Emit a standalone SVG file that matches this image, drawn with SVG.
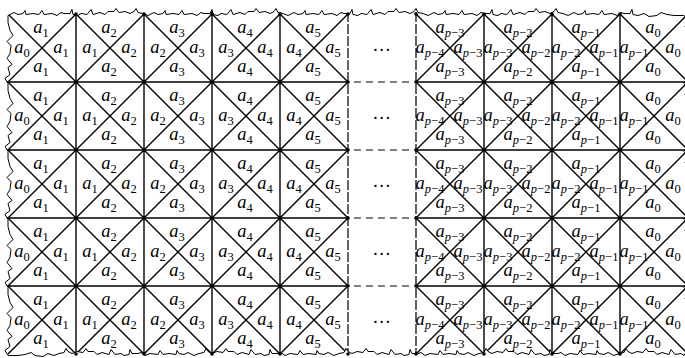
<svg xmlns="http://www.w3.org/2000/svg" xmlns:xlink="http://www.w3.org/1999/xlink" width="685" height="358" viewBox="0 0 685 358">
<style>
.t text{font-family:"Liberation Serif","DejaVu Serif",serif;font-size:18.5px;font-style:italic;text-anchor:middle;fill:#000}
.s{font-size:12.5px;font-style:normal}
.i{font-style:italic}
.ln{stroke:#000;stroke-width:1.4;fill:none}
.dv{stroke:#3a3a3a;stroke-width:1.6;stroke-dasharray:10 2;fill:none}
.dh{stroke:#555;stroke-width:1.4;stroke-dasharray:7 5;fill:none}
.dot{fill:#000}
.edge{fill:none;stroke:#000;stroke-width:1;stroke-linejoin:miter}
.el{font-family:"Liberation Serif","DejaVu Serif",serif;font-size:18px;text-anchor:middle;fill:#000}
</style>
<defs>
<path id="torn" d="M8,15.5
l6,-3 4,2 5,-1 2,-3 1,4 7,-1 6,1 3,-4 2,4 8,-1 5,2 4,-3 3,1 6,0 2,-4 1,5 5,1
l3,-2 6,1 4,-5 2,5 7,-2 5,2 3,-3 6,0 2,-3 3,4 6,-1 5,2 4,-2 2,-3 2,4 5,1 5,2
l6,-3 4,2 5,-1 2,-3 1,4 7,-1 6,1 3,-4 2,4 8,-1 5,2 4,-3 3,1 6,0 2,-4 1,5 5,1
l3,-2 6,1 4,-5 2,5 7,-2 5,2 3,-3 6,0 2,-3 3,4 6,-1 5,2 4,-2 2,-3 2,4 5,1 5,2
l6,-3 4,2 5,-1 2,-3 1,4 7,-1 6,1 3,-4 2,4 8,-1 5,2 4,-3 3,1 6,0 2,-4 1,5 5,1
l3,-2 6,1 4,-5 2,5 7,-2 5,2 3,-3 6,0 2,-3 3,4 6,-1 5,2 4,-2 2,-3 2,4 5,1 5,2
l6,-3 4,2 5,-1 2,-3 1,4 7,-1 6,1 3,-4 2,4 8,-1 5,2 4,-3 3,1 6,0 2,-4 1,5 5,1
l3,-2 6,1 4,-5 2,5 7,-2 5,2 3,-3 6,0 2,-3 3,4 6,-1 5,2 4,-2 2,-3 2,4 5,1 5,2
l6,-3 4,2 5,-1 2,-3 1,4 7,-1 6,1 3,-4 2,4 8,-1 5,2 4,-3 3,1 6,0 2,-4 1,5 5,1
l6,-2 5,3 8,-1 4,-3 6,2 7,1 10,0
l4,6 -3,5 5,8 -2,4 3,9 -5,3 4,7 -1,6 2,8 -3,5 -4,7
l4,6 -3,5 5,8 -2,4 3,9 -5,3 4,7 -1,6 2,8 -3,5 -4,7
l4,6 -3,5 5,8 -2,4 3,9 -5,3 4,7 -1,6 2,8 -3,5 -4,7
l4,6 -3,5 5,8 -2,4 3,9 -5,3 4,7 -1,6 2,8 -3,5 -4,7
l4,6 -3,5 5,8 -2,4 3,9 -5,3 4,7 -1,6 2,8 -3,5 -4,7
l-3,-2 -6,1 -4,-5 -2,5 -7,-2 -5,2 -3,-3 -6,0 -2,-3 -3,4 -6,-1 -5,2 -4,-2 -2,-3 -2,4 -5,1 -5,2
l-6,-3 -4,2 -5,-1 -2,-3 -1,4 -7,-1 -6,1 -3,-4 -2,4 -8,-1 -5,2 -4,-3 -3,1 -6,0 -2,-4 -1,5 -5,1
l-3,-2 -6,1 -4,-5 -2,5 -7,-2 -5,2 -3,-3 -6,0 -2,-3 -3,4 -6,-1 -5,2 -4,-2 -2,-3 -2,4 -5,1 -5,2
l-6,-3 -4,2 -5,-1 -2,-3 -1,4 -7,-1 -6,1 -3,-4 -2,4 -8,-1 -5,2 -4,-3 -3,1 -6,0 -2,-4 -1,5 -5,1
l-3,-2 -6,1 -4,-5 -2,5 -7,-2 -5,2 -3,-3 -6,0 -2,-3 -3,4 -6,-1 -5,2 -4,-2 -2,-3 -2,4 -5,1 -5,2
l-6,-3 -4,2 -5,-1 -2,-3 -1,4 -7,-1 -6,1 -3,-4 -2,4 -8,-1 -5,2 -4,-3 -3,1 -6,0 -2,-4 -1,5 -5,1
l-3,-2 -6,1 -4,-5 -2,5 -7,-2 -5,2 -3,-3 -6,0 -2,-3 -3,4 -6,-1 -5,2 -4,-2 -2,-3 -2,4 -5,1 -5,2
l-6,-3 -4,2 -5,-1 -2,-3 -1,4 -7,-1 -6,1 -3,-4 -2,4 -8,-1 -5,2 -4,-3 -3,1 -6,0 -2,-4 -1,5 -5,1
l-3,-2 -6,1 -4,-5 -2,5 -7,-2 -5,2 -3,-3 -6,0 -2,-3 -3,4 -6,-1 -5,2 -4,-2 -2,-3 -2,4 -5,1 -5,2
l-6,-2 -5,3 -8,-1 -4,-3 -6,2 -7,1 -10,0
l-3,-5 5,-4 -2,-7 4,-3 -5,-6 3,-5 1,-8 -4,-4 6,-6 -3,-5 -2,-8 0,-7
l-3,-5 5,-4 -2,-7 4,-3 -5,-6 3,-5 1,-8 -4,-4 6,-6 -3,-5 -2,-8 0,-7
l-3,-5 5,-4 -2,-7 4,-3 -5,-6 3,-5 1,-8 -4,-4 6,-6 -3,-5 -2,-8 0,-7
l-3,-5 5,-4 -2,-7 4,-3 -5,-6 3,-5 1,-8 -4,-4 6,-6 -3,-5 -2,-8 0,-7
l-3,-5 5,-4 -2,-7 4,-3 -5,-6 3,-5 1,-8 -4,-4 6,-6 -3,-5 -2,-8 0,-7 Z"/>
<clipPath id="clip"><use xlink:href="#torn"/></clipPath>
</defs>
<rect width="685" height="358" fill="#fff"/>
<g clip-path="url(#clip)">
<g id="connectors">
<path class="ln" d="M76,0V358M144,0V358M212,0V358M280,0V358M484,0V358M552,0V358M620,0V358M688,0V358"/>
<path class="dv" d="M348,0V358M416,0V358"/>
<path class="ln" d="M0,82H348M0,150H348M0,218H348M0,286H348M416,82H700M416,150H700M416,218H700M416,286H700"/>
<path class="dh" d="M354,82H412M354,150H412M354,218H412M354,286H412"/>
<path class="ln" d="M8,14L348,354M76,14L348,286M144,14L348,218M212,14L348,150M280,14L348,82M8,82L280,354M8,150L212,354M8,218L144,354M8,286L76,354
M76,14L8,82M144,14L8,150M212,14L8,218M280,14L8,286M348,14L8,354M348,82L76,354M348,150L144,354M348,218L212,354M348,286L280,354"/>
<path class="ln" d="M416,14L756,354M484,14L756,286M552,14L756,218M620,14L756,150M688,14L756,82M416,82L688,354M416,150L620,354M416,218L552,354M416,286L484,354
M484,14L416,82M552,14L416,150M620,14L416,218M688,14L416,286M756,14L416,354M756,82L484,354M756,150L552,354M756,218L620,354M756,286L688,354"/>
</g>
<g class="t">
<g id="r1c1"><text x="41" y="32.5">a<tspan class="s" dy="4">1</tspan></text><text x="22" y="53">a<tspan class="s" dy="4">0</tspan></text><text x="61" y="53">a<tspan class="s" dy="4">1</tspan></text><text x="41" y="71.5">a<tspan class="s" dy="4">1</tspan></text></g>
<g id="r1c2"><text x="109" y="32.5">a<tspan class="s" dy="4">2</tspan></text><text x="90" y="53">a<tspan class="s" dy="4">1</tspan></text><text x="129" y="53">a<tspan class="s" dy="4">2</tspan></text><text x="109" y="71.5">a<tspan class="s" dy="4">2</tspan></text></g>
<g id="r1c3"><text x="177" y="32.5">a<tspan class="s" dy="4">3</tspan></text><text x="158" y="53">a<tspan class="s" dy="4">2</tspan></text><text x="197" y="53">a<tspan class="s" dy="4">3</tspan></text><text x="177" y="71.5">a<tspan class="s" dy="4">3</tspan></text></g>
<g id="r1c4"><text x="245" y="32.5">a<tspan class="s" dy="4">4</tspan></text><text x="226" y="53">a<tspan class="s" dy="4">3</tspan></text><text x="265" y="53">a<tspan class="s" dy="4">4</tspan></text><text x="245" y="71.5">a<tspan class="s" dy="4">4</tspan></text></g>
<g id="r1c5"><text x="313" y="32.5">a<tspan class="s" dy="4">5</tspan></text><text x="294" y="53">a<tspan class="s" dy="4">4</tspan></text><text x="333" y="53">a<tspan class="s" dy="4">5</tspan></text><text x="313" y="71.5">a<tspan class="s" dy="4">5</tspan></text></g>
<g id="r1gap"><text class="el" x="382" y="51">…</text></g>
<g id="r1c6"><text x="450" y="32.5">a<tspan class="s" dy="4"><tspan class="i">p</tspan>−3</tspan></text><text x="430" y="53">a<tspan class="s" dy="4"><tspan class="i">p</tspan>−4</tspan></text><text x="468" y="53">a<tspan class="s" dy="4"><tspan class="i">p</tspan>−3</tspan></text><text x="450" y="71.5">a<tspan class="s" dy="4"><tspan class="i">p</tspan>−3</tspan></text></g>
<g id="r1c7"><text x="518" y="32.5">a<tspan class="s" dy="4"><tspan class="i">p</tspan>−2</tspan></text><text x="498" y="53">a<tspan class="s" dy="4"><tspan class="i">p</tspan>−3</tspan></text><text x="536" y="53">a<tspan class="s" dy="4"><tspan class="i">p</tspan>−2</tspan></text><text x="518" y="71.5">a<tspan class="s" dy="4"><tspan class="i">p</tspan>−2</tspan></text></g>
<g id="r1c8"><text x="586" y="32.5">a<tspan class="s" dy="4"><tspan class="i">p</tspan>−1</tspan></text><text x="566" y="53">a<tspan class="s" dy="4"><tspan class="i">p</tspan>−2</tspan></text><text x="604" y="53">a<tspan class="s" dy="4"><tspan class="i">p</tspan>−1</tspan></text><text x="586" y="71.5">a<tspan class="s" dy="4"><tspan class="i">p</tspan>−1</tspan></text></g>
<g id="r1c9"><text x="653" y="32.5">a<tspan class="s" dy="4">0</tspan></text><text x="634" y="53">a<tspan class="s" dy="4"><tspan class="i">p</tspan>−1</tspan></text><text x="673" y="53">a<tspan class="s" dy="4">0</tspan></text><text x="653" y="71.5">a<tspan class="s" dy="4">0</tspan></text></g>

<g id="r2c1"><text x="41" y="100.5">a<tspan class="s" dy="4">1</tspan></text><text x="22" y="121">a<tspan class="s" dy="4">0</tspan></text><text x="61" y="121">a<tspan class="s" dy="4">1</tspan></text><text x="41" y="139.5">a<tspan class="s" dy="4">1</tspan></text></g>
<g id="r2c2"><text x="109" y="100.5">a<tspan class="s" dy="4">2</tspan></text><text x="90" y="121">a<tspan class="s" dy="4">1</tspan></text><text x="129" y="121">a<tspan class="s" dy="4">2</tspan></text><text x="109" y="139.5">a<tspan class="s" dy="4">2</tspan></text></g>
<g id="r2c3"><text x="177" y="100.5">a<tspan class="s" dy="4">3</tspan></text><text x="158" y="121">a<tspan class="s" dy="4">2</tspan></text><text x="197" y="121">a<tspan class="s" dy="4">3</tspan></text><text x="177" y="139.5">a<tspan class="s" dy="4">3</tspan></text></g>
<g id="r2c4"><text x="245" y="100.5">a<tspan class="s" dy="4">4</tspan></text><text x="226" y="121">a<tspan class="s" dy="4">3</tspan></text><text x="265" y="121">a<tspan class="s" dy="4">4</tspan></text><text x="245" y="139.5">a<tspan class="s" dy="4">4</tspan></text></g>
<g id="r2c5"><text x="313" y="100.5">a<tspan class="s" dy="4">5</tspan></text><text x="294" y="121">a<tspan class="s" dy="4">4</tspan></text><text x="333" y="121">a<tspan class="s" dy="4">5</tspan></text><text x="313" y="139.5">a<tspan class="s" dy="4">5</tspan></text></g>
<g id="r2gap"><text class="el" x="382" y="119">…</text></g>
<g id="r2c6"><text x="450" y="100.5">a<tspan class="s" dy="4"><tspan class="i">p</tspan>−3</tspan></text><text x="430" y="121">a<tspan class="s" dy="4"><tspan class="i">p</tspan>−4</tspan></text><text x="468" y="121">a<tspan class="s" dy="4"><tspan class="i">p</tspan>−3</tspan></text><text x="450" y="139.5">a<tspan class="s" dy="4"><tspan class="i">p</tspan>−3</tspan></text></g>
<g id="r2c7"><text x="518" y="100.5">a<tspan class="s" dy="4"><tspan class="i">p</tspan>−2</tspan></text><text x="498" y="121">a<tspan class="s" dy="4"><tspan class="i">p</tspan>−3</tspan></text><text x="536" y="121">a<tspan class="s" dy="4"><tspan class="i">p</tspan>−2</tspan></text><text x="518" y="139.5">a<tspan class="s" dy="4"><tspan class="i">p</tspan>−2</tspan></text></g>
<g id="r2c8"><text x="586" y="100.5">a<tspan class="s" dy="4"><tspan class="i">p</tspan>−1</tspan></text><text x="566" y="121">a<tspan class="s" dy="4"><tspan class="i">p</tspan>−2</tspan></text><text x="604" y="121">a<tspan class="s" dy="4"><tspan class="i">p</tspan>−1</tspan></text><text x="586" y="139.5">a<tspan class="s" dy="4"><tspan class="i">p</tspan>−1</tspan></text></g>
<g id="r2c9"><text x="653" y="100.5">a<tspan class="s" dy="4">0</tspan></text><text x="634" y="121">a<tspan class="s" dy="4"><tspan class="i">p</tspan>−1</tspan></text><text x="673" y="121">a<tspan class="s" dy="4">0</tspan></text><text x="653" y="139.5">a<tspan class="s" dy="4">0</tspan></text></g>

<g id="r3c1"><text x="41" y="168.5">a<tspan class="s" dy="4">1</tspan></text><text x="22" y="189">a<tspan class="s" dy="4">0</tspan></text><text x="61" y="189">a<tspan class="s" dy="4">1</tspan></text><text x="41" y="207.5">a<tspan class="s" dy="4">1</tspan></text></g>
<g id="r3c2"><text x="109" y="168.5">a<tspan class="s" dy="4">2</tspan></text><text x="90" y="189">a<tspan class="s" dy="4">1</tspan></text><text x="129" y="189">a<tspan class="s" dy="4">2</tspan></text><text x="109" y="207.5">a<tspan class="s" dy="4">2</tspan></text></g>
<g id="r3c3"><text x="177" y="168.5">a<tspan class="s" dy="4">3</tspan></text><text x="158" y="189">a<tspan class="s" dy="4">2</tspan></text><text x="197" y="189">a<tspan class="s" dy="4">3</tspan></text><text x="177" y="207.5">a<tspan class="s" dy="4">3</tspan></text></g>
<g id="r3c4"><text x="245" y="168.5">a<tspan class="s" dy="4">4</tspan></text><text x="226" y="189">a<tspan class="s" dy="4">3</tspan></text><text x="265" y="189">a<tspan class="s" dy="4">4</tspan></text><text x="245" y="207.5">a<tspan class="s" dy="4">4</tspan></text></g>
<g id="r3c5"><text x="313" y="168.5">a<tspan class="s" dy="4">5</tspan></text><text x="294" y="189">a<tspan class="s" dy="4">4</tspan></text><text x="333" y="189">a<tspan class="s" dy="4">5</tspan></text><text x="313" y="207.5">a<tspan class="s" dy="4">5</tspan></text></g>
<g id="r3gap"><text class="el" x="382" y="187">…</text></g>
<g id="r3c6"><text x="450" y="168.5">a<tspan class="s" dy="4"><tspan class="i">p</tspan>−3</tspan></text><text x="430" y="189">a<tspan class="s" dy="4"><tspan class="i">p</tspan>−4</tspan></text><text x="468" y="189">a<tspan class="s" dy="4"><tspan class="i">p</tspan>−3</tspan></text><text x="450" y="207.5">a<tspan class="s" dy="4"><tspan class="i">p</tspan>−3</tspan></text></g>
<g id="r3c7"><text x="518" y="168.5">a<tspan class="s" dy="4"><tspan class="i">p</tspan>−2</tspan></text><text x="498" y="189">a<tspan class="s" dy="4"><tspan class="i">p</tspan>−3</tspan></text><text x="536" y="189">a<tspan class="s" dy="4"><tspan class="i">p</tspan>−2</tspan></text><text x="518" y="207.5">a<tspan class="s" dy="4"><tspan class="i">p</tspan>−2</tspan></text></g>
<g id="r3c8"><text x="586" y="168.5">a<tspan class="s" dy="4"><tspan class="i">p</tspan>−1</tspan></text><text x="566" y="189">a<tspan class="s" dy="4"><tspan class="i">p</tspan>−2</tspan></text><text x="604" y="189">a<tspan class="s" dy="4"><tspan class="i">p</tspan>−1</tspan></text><text x="586" y="207.5">a<tspan class="s" dy="4"><tspan class="i">p</tspan>−1</tspan></text></g>
<g id="r3c9"><text x="653" y="168.5">a<tspan class="s" dy="4">0</tspan></text><text x="634" y="189">a<tspan class="s" dy="4"><tspan class="i">p</tspan>−1</tspan></text><text x="673" y="189">a<tspan class="s" dy="4">0</tspan></text><text x="653" y="207.5">a<tspan class="s" dy="4">0</tspan></text></g>

<g id="r4c1"><text x="41" y="236.5">a<tspan class="s" dy="4">1</tspan></text><text x="22" y="257">a<tspan class="s" dy="4">0</tspan></text><text x="61" y="257">a<tspan class="s" dy="4">1</tspan></text><text x="41" y="275.5">a<tspan class="s" dy="4">1</tspan></text></g>
<g id="r4c2"><text x="109" y="236.5">a<tspan class="s" dy="4">2</tspan></text><text x="90" y="257">a<tspan class="s" dy="4">1</tspan></text><text x="129" y="257">a<tspan class="s" dy="4">2</tspan></text><text x="109" y="275.5">a<tspan class="s" dy="4">2</tspan></text></g>
<g id="r4c3"><text x="177" y="236.5">a<tspan class="s" dy="4">3</tspan></text><text x="158" y="257">a<tspan class="s" dy="4">2</tspan></text><text x="197" y="257">a<tspan class="s" dy="4">3</tspan></text><text x="177" y="275.5">a<tspan class="s" dy="4">3</tspan></text></g>
<g id="r4c4"><text x="245" y="236.5">a<tspan class="s" dy="4">4</tspan></text><text x="226" y="257">a<tspan class="s" dy="4">3</tspan></text><text x="265" y="257">a<tspan class="s" dy="4">4</tspan></text><text x="245" y="275.5">a<tspan class="s" dy="4">4</tspan></text></g>
<g id="r4c5"><text x="313" y="236.5">a<tspan class="s" dy="4">5</tspan></text><text x="294" y="257">a<tspan class="s" dy="4">4</tspan></text><text x="333" y="257">a<tspan class="s" dy="4">5</tspan></text><text x="313" y="275.5">a<tspan class="s" dy="4">5</tspan></text></g>
<g id="r4gap"><text class="el" x="382" y="255">…</text></g>
<g id="r4c6"><text x="450" y="236.5">a<tspan class="s" dy="4"><tspan class="i">p</tspan>−3</tspan></text><text x="430" y="257">a<tspan class="s" dy="4"><tspan class="i">p</tspan>−4</tspan></text><text x="468" y="257">a<tspan class="s" dy="4"><tspan class="i">p</tspan>−3</tspan></text><text x="450" y="275.5">a<tspan class="s" dy="4"><tspan class="i">p</tspan>−3</tspan></text></g>
<g id="r4c7"><text x="518" y="236.5">a<tspan class="s" dy="4"><tspan class="i">p</tspan>−2</tspan></text><text x="498" y="257">a<tspan class="s" dy="4"><tspan class="i">p</tspan>−3</tspan></text><text x="536" y="257">a<tspan class="s" dy="4"><tspan class="i">p</tspan>−2</tspan></text><text x="518" y="275.5">a<tspan class="s" dy="4"><tspan class="i">p</tspan>−2</tspan></text></g>
<g id="r4c8"><text x="586" y="236.5">a<tspan class="s" dy="4"><tspan class="i">p</tspan>−1</tspan></text><text x="566" y="257">a<tspan class="s" dy="4"><tspan class="i">p</tspan>−2</tspan></text><text x="604" y="257">a<tspan class="s" dy="4"><tspan class="i">p</tspan>−1</tspan></text><text x="586" y="275.5">a<tspan class="s" dy="4"><tspan class="i">p</tspan>−1</tspan></text></g>
<g id="r4c9"><text x="653" y="236.5">a<tspan class="s" dy="4">0</tspan></text><text x="634" y="257">a<tspan class="s" dy="4"><tspan class="i">p</tspan>−1</tspan></text><text x="673" y="257">a<tspan class="s" dy="4">0</tspan></text><text x="653" y="275.5">a<tspan class="s" dy="4">0</tspan></text></g>

<g id="r5c1"><text x="41" y="304.5">a<tspan class="s" dy="4">1</tspan></text><text x="22" y="325">a<tspan class="s" dy="4">0</tspan></text><text x="61" y="325">a<tspan class="s" dy="4">1</tspan></text><text x="41" y="343.5">a<tspan class="s" dy="4">1</tspan></text></g>
<g id="r5c2"><text x="109" y="304.5">a<tspan class="s" dy="4">2</tspan></text><text x="90" y="325">a<tspan class="s" dy="4">1</tspan></text><text x="129" y="325">a<tspan class="s" dy="4">2</tspan></text><text x="109" y="343.5">a<tspan class="s" dy="4">2</tspan></text></g>
<g id="r5c3"><text x="177" y="304.5">a<tspan class="s" dy="4">3</tspan></text><text x="158" y="325">a<tspan class="s" dy="4">2</tspan></text><text x="197" y="325">a<tspan class="s" dy="4">3</tspan></text><text x="177" y="343.5">a<tspan class="s" dy="4">3</tspan></text></g>
<g id="r5c4"><text x="245" y="304.5">a<tspan class="s" dy="4">4</tspan></text><text x="226" y="325">a<tspan class="s" dy="4">3</tspan></text><text x="265" y="325">a<tspan class="s" dy="4">4</tspan></text><text x="245" y="343.5">a<tspan class="s" dy="4">4</tspan></text></g>
<g id="r5c5"><text x="313" y="304.5">a<tspan class="s" dy="4">5</tspan></text><text x="294" y="325">a<tspan class="s" dy="4">4</tspan></text><text x="333" y="325">a<tspan class="s" dy="4">5</tspan></text><text x="313" y="343.5">a<tspan class="s" dy="4">5</tspan></text></g>
<g id="r5gap"><text class="el" x="382" y="323">…</text></g>
<g id="r5c6"><text x="450" y="304.5">a<tspan class="s" dy="4"><tspan class="i">p</tspan>−3</tspan></text><text x="430" y="325">a<tspan class="s" dy="4"><tspan class="i">p</tspan>−4</tspan></text><text x="468" y="325">a<tspan class="s" dy="4"><tspan class="i">p</tspan>−3</tspan></text><text x="450" y="343.5">a<tspan class="s" dy="4"><tspan class="i">p</tspan>−3</tspan></text></g>
<g id="r5c7"><text x="518" y="304.5">a<tspan class="s" dy="4"><tspan class="i">p</tspan>−2</tspan></text><text x="498" y="325">a<tspan class="s" dy="4"><tspan class="i">p</tspan>−3</tspan></text><text x="536" y="325">a<tspan class="s" dy="4"><tspan class="i">p</tspan>−2</tspan></text><text x="518" y="343.5">a<tspan class="s" dy="4"><tspan class="i">p</tspan>−2</tspan></text></g>
<g id="r5c8"><text x="586" y="304.5">a<tspan class="s" dy="4"><tspan class="i">p</tspan>−1</tspan></text><text x="566" y="325">a<tspan class="s" dy="4"><tspan class="i">p</tspan>−2</tspan></text><text x="604" y="325">a<tspan class="s" dy="4"><tspan class="i">p</tspan>−1</tspan></text><text x="586" y="343.5">a<tspan class="s" dy="4"><tspan class="i">p</tspan>−1</tspan></text></g>
<g id="r5c9"><text x="653" y="304.5">a<tspan class="s" dy="4">0</tspan></text><text x="634" y="325">a<tspan class="s" dy="4"><tspan class="i">p</tspan>−1</tspan></text><text x="673" y="325">a<tspan class="s" dy="4">0</tspan></text><text x="653" y="343.5">a<tspan class="s" dy="4">0</tspan></text></g>
</g>
</g>
<use xlink:href="#torn" class="edge"/>
<g id="vertices" class="dot">
<circle cx="76" cy="14" r="1.8"/><circle cx="144" cy="14" r="1.8"/><circle cx="212" cy="14" r="1.8"/><circle cx="280" cy="14" r="1.8"/><circle cx="348" cy="14" r="1.8"/><circle cx="416" cy="14" r="1.8"/><circle cx="484" cy="14" r="1.8"/><circle cx="552" cy="14" r="1.8"/><circle cx="620" cy="14" r="1.8"/>
<circle cx="76" cy="82" r="1.8"/><circle cx="144" cy="82" r="1.8"/><circle cx="212" cy="82" r="1.8"/><circle cx="280" cy="82" r="1.8"/><circle cx="348" cy="82" r="1.8"/><circle cx="416" cy="82" r="1.8"/><circle cx="484" cy="82" r="1.8"/><circle cx="552" cy="82" r="1.8"/><circle cx="620" cy="82" r="1.8"/>
<circle cx="76" cy="150" r="1.8"/><circle cx="144" cy="150" r="1.8"/><circle cx="212" cy="150" r="1.8"/><circle cx="280" cy="150" r="1.8"/><circle cx="348" cy="150" r="1.8"/><circle cx="416" cy="150" r="1.8"/><circle cx="484" cy="150" r="1.8"/><circle cx="552" cy="150" r="1.8"/><circle cx="620" cy="150" r="1.8"/>
<circle cx="76" cy="218" r="1.8"/><circle cx="144" cy="218" r="1.8"/><circle cx="212" cy="218" r="1.8"/><circle cx="280" cy="218" r="1.8"/><circle cx="348" cy="218" r="1.8"/><circle cx="416" cy="218" r="1.8"/><circle cx="484" cy="218" r="1.8"/><circle cx="552" cy="218" r="1.8"/><circle cx="620" cy="218" r="1.8"/>
<circle cx="76" cy="286" r="1.8"/><circle cx="144" cy="286" r="1.8"/><circle cx="212" cy="286" r="1.8"/><circle cx="280" cy="286" r="1.8"/><circle cx="348" cy="286" r="1.8"/><circle cx="416" cy="286" r="1.8"/><circle cx="484" cy="286" r="1.8"/><circle cx="552" cy="286" r="1.8"/><circle cx="620" cy="286" r="1.8"/>
<circle cx="76" cy="354" r="1.8"/><circle cx="144" cy="354" r="1.8"/><circle cx="212" cy="354" r="1.8"/><circle cx="280" cy="354" r="1.8"/><circle cx="348" cy="354" r="1.8"/><circle cx="416" cy="354" r="1.8"/><circle cx="484" cy="354" r="1.8"/><circle cx="552" cy="354" r="1.8"/><circle cx="620" cy="354" r="1.8"/>
</g>
</svg>
